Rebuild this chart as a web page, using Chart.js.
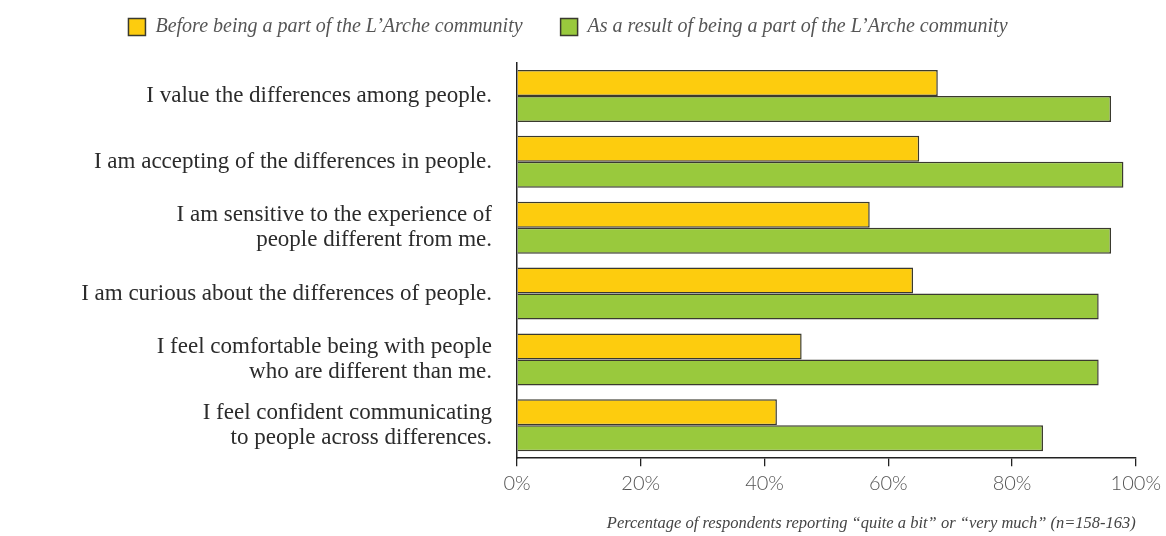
<!DOCTYPE html>
<html>
<head>
<meta charset="utf-8">
<script src="https://cdn.jsdelivr.net/npm/chart.js@4/dist/chart.umd.min.js"></script>
<style>
    html, body { margin: 0; padding: 0; background: #fff; }
    #wrap { width: 1166px; height: 536px; position: relative; }
</style>
</head>
<body>
<div id="wrap"><canvas id="chart"></canvas></div>
<script>
const statements = [
    'I value the differences among people.',
    'I am accepting of the differences in people.',
    ['I am sensitive to the experience of', 'people different from me.'],
    'I am curious about the differences of people.',
    ['I feel comfortable being with people', 'who are different than me.'],
    ['I feel confident communicating', 'to people across differences.']
];
const beforeValues = [68, 65, 57, 64, 46, 42];
const afterValues = [96, 98, 96, 94, 94, 85];
const seriesNames = [
    'Before being a part of the L\u2019Arche community',
    'As a result of being a part of the L\u2019Arche community'
];
const xTitle = 'Percentage of respondents reporting \u201cquite a bit\u201d or \u201cvery much\u201d (n=158-163)';

const serif = '"Liberation Serif", "DejaVu Serif", serif';

new Chart(document.getElementById('chart'), {
    type: 'bar',
    data: {
        labels: statements,
        datasets: [
            {
                label: seriesNames[0],
                data: beforeValues,
                backgroundColor: '#fdcc0e',
                borderColor: '#3a3a2e',
                borderWidth: 1.5,
                categoryPercentage: 0.79,
                barPercentage: 1.0
            },
            {
                label: seriesNames[1],
                data: afterValues,
                backgroundColor: '#99c93d',
                borderColor: '#3a3a2e',
                borderWidth: 1.5,
                categoryPercentage: 0.79,
                barPercentage: 1.0
            }
        ]
    },
    options: {
        indexAxis: 'y',
        responsive: true,
        maintainAspectRatio: false,
        animation: false,
        // negative top padding lets the wide legend spacing sit near the top edge
        layout: { padding: { left: 0, right: 30, top: -21, bottom: 2 } },
        plugins: {
            tooltip: { enabled: false },
            legend: {
                position: 'top',
                labels: {
                    boxWidth: 17,
                    boxHeight: 17,
                    padding: 38,
                    color: '#555',
                    font: { family: serif, style: 'italic', size: 20 }
                }
            }
        },
        scales: {
            x: {
                min: 0,
                max: 100,
                ticks: {
                    stepSize: 20,
                    color: '#555',
                    padding: 5,
                    font: { family: 'Lato', weight: 300, size: 20 },
                    callback: (v) => v + '%'
                },
                grid: {
                    display: true,
                    drawOnChartArea: false,
                    drawTicks: true,
                    tickLength: 8,
                    color: '#222',
                    lineWidth: 1.3
                },
                border: { display: true, color: '#222', width: 1.5 },
                title: {
                    display: true,
                    text: xTitle,
                    align: 'end',
                    color: '#444',
                    padding: { top: 14, bottom: 0 },
                    font: { family: serif, style: 'italic', size: 16.5 }
                }
            },
            // empty top axis, only keeps a gap between the legend and the bars
            gap: {
                type: 'linear',
                axis: 'x',
                position: 'top',
                display: true,
                grid: { display: false },
                border: { display: false },
                ticks: { display: false },
                afterFit: (scale) => {
                    scale.height = 16;
                }
            },
            y: {
                grid: { display: false },
                border: { display: true, color: '#222', width: 1.5 },
                ticks: {
                    color: '#2b2b2b',
                    padding: 17,
                    font: { family: serif, size: 23, lineHeight: 1.1 }
                },
                afterFit: (scale) => {
                    scale.width = 517;
                }
            }
        }
    }
});
</script>
</body>
</html>
